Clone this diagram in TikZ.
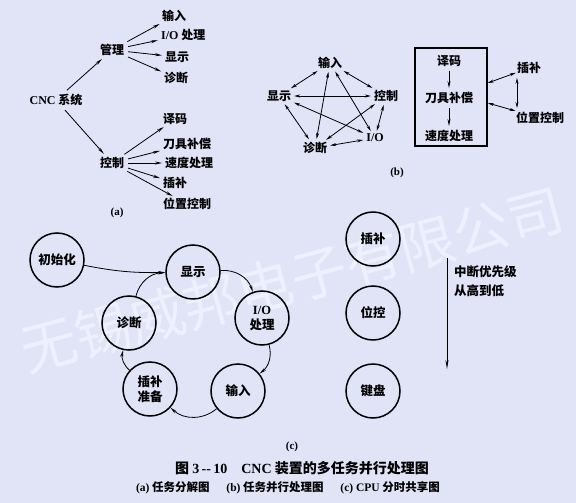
\documentclass[tikz,border=0pt]{standalone}
\usepackage{fontspec}
\setmainfont{Noto Sans CJK SC}
\newfontfamily\lat{Liberation Serif}
\usetikzlibrary{arrows.meta,calc}
\definecolor{bg}{RGB}{225,227,247}
\definecolor{wm}{RGB}{239,240,253}
\tikzset{
  lbl/.style={font=\fontsize{12}{14}\selectfont\bfseries, inner sep=1pt},
  sublbl/.style={font=\lat\fontsize{11}{12}\selectfont\bfseries, inner sep=1pt},
  arr/.style={-{Stealth[length=7pt,width=3pt]}, line width=0.8pt},
  darr/.style={{Stealth[length=6pt,width=3pt]}-{Stealth[length=6pt,width=3pt]}, line width=0.8pt},
  circ/.style={circle, draw, line width=1.5pt, minimum size=54pt, inner sep=0pt,
    align=center, font=\fontsize{12.5}{15}\selectfont\bfseries},
  wmtext/.style={rotate=15, font=\fontsize{56}{56}\selectfont, inner sep=0pt, text=wm}
}
\begin{document}
\begin{tikzpicture}[x=1pt,y=1pt]
\fill[bg] (0,0) rectangle (576,-503);
\useasboundingbox (0,0) rectangle (576,-503);
% watermark
\node[wmtext] (wmark) at (292,-280) {无锡威邦电子有限公司};

% ---------- (a) ----------
\node[lbl] (cnc) at (56,-100) {{\lat CNC} 系统};
\node[lbl] (gl) at (112,-50) {管理};
\node[lbl] (kz) at (112,-163) {控制};
\node[lbl,anchor=west] (a1) at (161,-16) {输入};
\node[lbl,anchor=west] (a2) at (160,-35) {{\lat I/O} 处理};
\node[lbl,anchor=west] (a3) at (164,-57) {显示};
\node[lbl,anchor=west] (a4) at (163,-78) {诊断};
\node[lbl,anchor=west] (a5) at (162,-119) {译码};
\node[lbl,anchor=west] (a6) at (162,-144) {刀具补偿};
\node[lbl,anchor=west] (a7) at (164,-163) {速度处理};
\node[lbl,anchor=west] (a8) at (162,-183) {插补};
\node[lbl,anchor=west] (a9) at (162,-204) {位置控制};
\node[sublbl] (la) at (117,-213) {(a)};
\draw[arr, shorten <=4pt, shorten >=3pt] (cnc) -- (gl);
\draw[arr, shorten <=4pt, shorten >=3pt] (cnc) -- (kz);
\foreach \t in {a1,a2,a3,a4}{
  \draw[arr, shorten <=3pt, shorten >=2pt] (gl) -- (\t);
}
\foreach \t in {a5,a6,a7,a8,a9}{
  \draw[arr, shorten <=3pt, shorten >=2pt] (kz) -- (\t);
}

% ---------- (b) ----------
\node[lbl] (b1) at (330,-63) {输入};
\node[lbl] (b2) at (279,-96) {显示};
\node[lbl] (b3) at (386,-96) {控制};
\node[lbl] (b4) at (315,-148) {诊断};
\node[lbl] (b5) at (375,-138) {\lat I/O};
\foreach \s/\t in {b1/b2,b1/b3,b2/b3,b2/b4,b3/b5,b4/b5,b1/b4,b1/b5,b2/b5,b3/b4}{
  \draw[darr, shorten <=2pt, shorten >=2pt] (\s) -- (\t);
}
\node[draw, line width=1.5pt, minimum width=72pt, minimum height=98pt, inner sep=0pt] (box) at (451,-97) {};
\node[lbl] (c1) at (449,-61) {译码};
\node[lbl] (c2) at (449,-98) {刀具补偿};
\node[lbl] (c3) at (449,-136) {速度处理};
\draw[arr, shorten <=3pt, shorten >=3pt] (c1) -- (c2);
\draw[arr, shorten <=3pt, shorten >=3pt] (c2) -- (c3);
\node[lbl] (d1) at (529,-68) {插补};
\node[lbl] (d2) at (540,-118) {位置控制};
\draw[darr] ([yshift=14pt]box.east) -- (d1);
\draw[darr] ([yshift=-6pt]box.east) -- (d2);
\draw[darr] ([xshift=-12pt,yshift=-3pt]d1.south) -- ([xshift=-12pt,yshift=3pt]d1.south |- d2.north);
\node[sublbl] (lb) at (397,-173) {(b)};

% ---------- (c) ----------
\node[circ] (init) at (57,-260) {初始化};
\node[circ] (disp) at (193,-272) {显示};
\node[circ] (io) at (262,-318) {{\lat I/O}\\处理};
\node[circ] (diag) at (129,-323) {诊断};
\node[circ] (prep) at (150,-389) {插补\\准备};
\node[circ] (inp) at (238,-391) {输入};
\draw[arr] (init) to[bend right=6] (disp);
\draw[arr] (disp) to[bend left=37] (io);
\draw[arr] (io) to[bend left=33] (inp);
\draw[arr] (inp) to[bend left=41] (prep);
\draw[arr] (prep) to[bend left=30] (diag);
\draw[arr] (diag) to[bend left=37] (disp);

\node[circ] (e1) at (373,-239) {插补};
\node[circ] (e2) at (373,-313) {位控};
\node[circ] (e3) at (373,-391) {键盘};
\coordinate (pt) at (447,-258);
\coordinate (pb) at (447,-369);
\draw[-{Stealth[length=9pt,width=3pt]}, line width=0.8pt] (pt) -- (pb);
\node[lbl, anchor=north west, align=left, font=\fontsize{12.5}{19}\selectfont\bfseries] (prio) at (453,-264) {中断优先级\\从高到低};
\node[sublbl] (lc) at (292,-447) {(c)};

% ---------- caption ----------
\node[font=\fontsize{14}{16}\selectfont\bfseries] (cap1) at (302,-468) {图 {\lat 3\,--\,10}\quad{\lat CNC} 装置的多任务并行处理图};
\node[font=\fontsize{11.5}{13}\selectfont\bfseries] (cap2) at (288,-488) {{\lat (a)} 任务分解图\quad\ \ {\lat (b)} 任务并行处理图\quad\ \ {\lat (c) CPU} 分时共享图};
\end{tikzpicture}
\end{document}
